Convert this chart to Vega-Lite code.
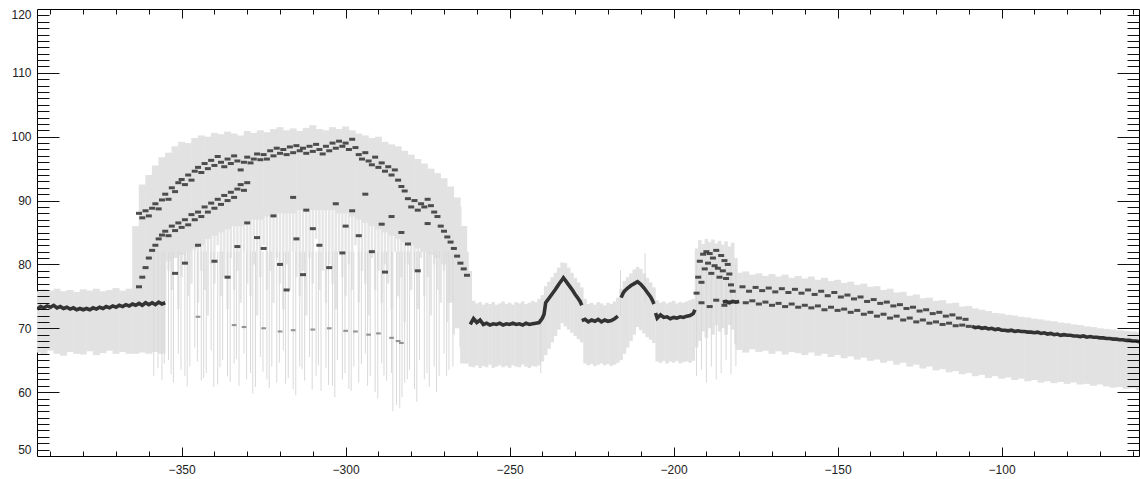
{
  "$schema": "https://vega.github.io/schema/vega-lite/v6.json",
  "autosize": {"type": "none"},
  "width": 1102,
  "height": 447,
  "padding": {"left": 37, "top": 9, "right": 1, "bottom": 23},
  "background": "white",
  "config": {
    "view": {"stroke": "#000", "strokeWidth": 1},
    "axis": {"domain": false, "grid": false, "title": null, "labelFont": "Liberation Sans", "labelFontSize": 12, "labelColor": "#222", "tickColor": "#111", "tickWidth": 1}
  },
  "datasets": {
    "haze": [
      {"x":-355,"lo":74,"hi":89},{"x":-354,"lo":79,"hi":89},{"x":-353,"lo":76,"hi":89},{"x":-352,"lo":81,"hi":89},{"x":-351,"lo":73,"hi":89},{"x":-350,"lo":78,"hi":89},{"x":-349,"lo":80,"hi":89},{"x":-348,"lo":75,"hi":89},{"x":-347,"lo":77,"hi":89},{"x":-346,"lo":82,"hi":89},{"x":-345,"lo":74,"hi":89},{"x":-344,"lo":79,"hi":89},{"x":-343,"lo":76,"hi":89},{"x":-342,"lo":72,"hi":89},{"x":-341,"lo":80,"hi":89},{"x":-340,"lo":77,"hi":89},{"x":-339,"lo":83,"hi":89},{"x":-338,"lo":75,"hi":89},{"x":-337,"lo":78,"hi":89},{"x":-336,"lo":73,"hi":89},{"x":-335,"lo":81,"hi":89},{"x":-334,"lo":76,"hi":89},{"x":-333,"lo":79,"hi":89},{"x":-332,"lo":74,"hi":89},{"x":-331,"lo":82,"hi":89},{"x":-330,"lo":77,"hi":89},{"x":-329,"lo":75,"hi":89},{"x":-328,"lo":80,"hi":89},{"x":-327,"lo":72,"hi":89},{"x":-326,"lo":78,"hi":89},{"x":-325,"lo":83,"hi":89},{"x":-324,"lo":76,"hi":89},{"x":-323,"lo":79,"hi":89},{"x":-322,"lo":74,"hi":89},{"x":-321,"lo":81,"hi":89},{"x":-320,"lo":77,"hi":89},{"x":-319,"lo":73,"hi":89},{"x":-318,"lo":80,"hi":89},{"x":-317,"lo":76,"hi":89},{"x":-316,"lo":82,"hi":89},{"x":-315,"lo":78,"hi":89},{"x":-314,"lo":75,"hi":89},{"x":-313,"lo":79,"hi":89},{"x":-312,"lo":72,"hi":89},{"x":-311,"lo":81,"hi":89},{"x":-310,"lo":77,"hi":89},{"x":-309,"lo":84,"hi":89},{"x":-308,"lo":76,"hi":89},{"x":-307,"lo":79,"hi":89},{"x":-306,"lo":74,"hi":89},{"x":-305,"lo":80,"hi":89},{"x":-304,"lo":77,"hi":89},{"x":-303,"lo":73,"hi":89},{"x":-302,"lo":82,"hi":89},{"x":-301,"lo":78,"hi":89},{"x":-300,"lo":75,"hi":89},{"x":-299,"lo":80,"hi":89},{"x":-298,"lo":76,"hi":89},{"x":-297,"lo":83,"hi":89},{"x":-296,"lo":74,"hi":89},{"x":-295,"lo":79,"hi":89},{"x":-294,"lo":77,"hi":89},{"x":-293,"lo":72,"hi":89},{"x":-292,"lo":81,"hi":89},{"x":-291,"lo":76,"hi":89},{"x":-290,"lo":79,"hi":89},{"x":-289,"lo":74,"hi":89},{"x":-288,"lo":80,"hi":89},{"x":-287,"lo":77,"hi":89},{"x":-286,"lo":73,"hi":89},{"x":-285,"lo":82,"hi":89},{"x":-284,"lo":75,"hi":89},{"x":-283,"lo":78,"hi":89},{"x":-282,"lo":71,"hi":89},{"x":-281,"lo":80,"hi":89},{"x":-280,"lo":76,"hi":89},{"x":-279,"lo":79,"hi":89},{"x":-278,"lo":73,"hi":89},{"x":-277,"lo":81,"hi":89},{"x":-276,"lo":75,"hi":89},{"x":-275,"lo":78,"hi":89},{"x":-274,"lo":72,"hi":89},{"x":-273,"lo":80,"hi":89},{"x":-272,"lo":76,"hi":89},{"x":-271,"lo":74,"hi":89},{"x":-270,"lo":79,"hi":89},{"x":-269,"lo":71,"hi":89},{"x":-268,"lo":75,"hi":89},{"x":-267,"lo":69,"hi":89},{"x":-266,"lo":72,"hi":89},{"x":-265,"lo":67,"hi":89}
    ],
    "band2": [
      {"x":-394,"lo":66.2,"hi":75.8},{"x":-392,"lo":65.8,"hi":76.1},{"x":-390,"lo":66.5,"hi":75.9},{"x":-388,"lo":66.0,"hi":76.2},{"x":-386,"lo":65.7,"hi":75.8},{"x":-384,"lo":66.3,"hi":76.0},{"x":-382,"lo":66.0,"hi":75.7},{"x":-380,"lo":65.9,"hi":76.1},{"x":-378,"lo":66.4,"hi":75.9},{"x":-376,"lo":65.8,"hi":76.2},{"x":-374,"lo":66.1,"hi":75.8},{"x":-372,"lo":66.5,"hi":76.0},{"x":-370,"lo":66.0,"hi":76.3},{"x":-368,"lo":66.3,"hi":75.9},{"x":-366,"lo":66.0,"hi":76.2},
      {"x":-364,"lo":66.0,"hi":86.0},{"x":-362,"lo":66.2,"hi":92.5},{"x":-360,"lo":66.0,"hi":94.0},{"x":-358,"lo":66.3,"hi":95.5},{"x":-356,"lo":66.0,"hi":96.8},{"x":-354,"lo":80.5,"hi":97.5},{"x":-352,"lo":81.0,"hi":98.5},{"x":-350,"lo":81.5,"hi":99.2},{"x":-348,"lo":82.0,"hi":99.0},{"x":-346,"lo":82.5,"hi":99.8},{"x":-344,"lo":83.0,"hi":100.2},{"x":-342,"lo":84.0,"hi":100.0},{"x":-340,"lo":84.5,"hi":100.6},{"x":-338,"lo":85.0,"hi":100.4},{"x":-336,"lo":85.5,"hi":100.8},{"x":-334,"lo":86.0,"hi":100.5},{"x":-332,"lo":86.0,"hi":100.2},{"x":-330,"lo":86.5,"hi":100.9},{"x":-328,"lo":87.0,"hi":100.6},{"x":-326,"lo":87.0,"hi":101.0},{"x":-324,"lo":87.5,"hi":100.7},{"x":-322,"lo":87.5,"hi":101.2},{"x":-320,"lo":88.0,"hi":101.5},{"x":-318,"lo":88.0,"hi":101.0},{"x":-316,"lo":88.0,"hi":101.3},{"x":-314,"lo":88.5,"hi":100.9},{"x":-312,"lo":88.5,"hi":101.4},{"x":-310,"lo":88.5,"hi":101.8},{"x":-308,"lo":88.5,"hi":101.2},{"x":-306,"lo":88.5,"hi":101.0},{"x":-304,"lo":88.5,"hi":101.5},{"x":-302,"lo":88.0,"hi":101.2},{"x":-300,"lo":88.0,"hi":101.6},{"x":-298,"lo":87.5,"hi":101.0},{"x":-296,"lo":87.0,"hi":100.5},{"x":-294,"lo":86.5,"hi":100.2},{"x":-292,"lo":86.0,"hi":99.8},{"x":-290,"lo":85.5,"hi":100.0},{"x":-288,"lo":85.0,"hi":99.2},{"x":-286,"lo":84.5,"hi":98.8},{"x":-284,"lo":84.0,"hi":98.5},{"x":-282,"lo":83.5,"hi":97.8},{"x":-280,"lo":83.0,"hi":97.2},{"x":-278,"lo":82.5,"hi":96.5},{"x":-276,"lo":82.0,"hi":95.8},{"x":-274,"lo":81.5,"hi":95.0},{"x":-272,"lo":81.0,"hi":94.3},{"x":-270,"lo":80.0,"hi":93.5},{"x":-268,"lo":74.0,"hi":92.2},{"x":-266,"lo":70.0,"hi":90.5},{"x":-264,"lo":64.5,"hi":86.0},
      {"x":-180,"lo":66.6,"hi":78.7},{"x":-178,"lo":66.2,"hi":78.9},{"x":-176,"lo":66.7,"hi":78.4},{"x":-174,"lo":66.3,"hi":78.6},{"x":-172,"lo":66.5,"hi":78.2},{"x":-170,"lo":66.0,"hi":78.5},{"x":-168,"lo":66.4,"hi":78.1},{"x":-166,"lo":65.9,"hi":78.4},{"x":-164,"lo":66.3,"hi":77.9},{"x":-162,"lo":66.1,"hi":78.2},{"x":-160,"lo":65.8,"hi":77.8},{"x":-158,"lo":66.2,"hi":78.1},{"x":-156,"lo":65.7,"hi":77.6},{"x":-154,"lo":66.0,"hi":77.9},{"x":-152,"lo":65.5,"hi":77.4},{"x":-150,"lo":65.8,"hi":77.6},{"x":-148,"lo":65.3,"hi":77.1},{"x":-146,"lo":65.6,"hi":77.3},{"x":-144,"lo":65.1,"hi":76.8},{"x":-142,"lo":65.4,"hi":77.0},{"x":-140,"lo":64.9,"hi":76.5},{"x":-138,"lo":65.1,"hi":76.6},{"x":-136,"lo":64.6,"hi":76.0},{"x":-134,"lo":64.9,"hi":76.2},{"x":-132,"lo":64.3,"hi":75.6},{"x":-130,"lo":64.6,"hi":75.7},{"x":-128,"lo":64.0,"hi":75.1},{"x":-126,"lo":64.3,"hi":75.3},{"x":-124,"lo":63.7,"hi":74.7},{"x":-122,"lo":64.0,"hi":74.8},{"x":-120,"lo":63.4,"hi":74.3},{"x":-118,"lo":63.6,"hi":74.4},{"x":-116,"lo":63.1,"hi":73.9},{"x":-114,"lo":63.3,"hi":74.0},{"x":-112,"lo":62.8,"hi":73.4},{"x":-110,"lo":63.0,"hi":73.5},{"x":-108,"lo":62.5,"hi":73.1},{"x":-106,"lo":62.7,"hi":72.9},{"x":-104,"lo":62.2,"hi":72.7},{"x":-102,"lo":62.5,"hi":72.4},{"x":-100,"lo":62.1,"hi":72.3},{"x":-98,"lo":62.3,"hi":72.1},{"x":-96,"lo":61.9,"hi":72.0},{"x":-94,"lo":62.1,"hi":71.8},{"x":-92,"lo":61.7,"hi":71.7},{"x":-90,"lo":61.9,"hi":71.5},{"x":-88,"lo":61.5,"hi":71.4},{"x":-86,"lo":61.7,"hi":71.2},{"x":-84,"lo":61.4,"hi":71.1},{"x":-82,"lo":61.6,"hi":70.9},{"x":-80,"lo":61.3,"hi":70.8},{"x":-78,"lo":61.5,"hi":70.6},{"x":-76,"lo":61.2,"hi":70.5},{"x":-74,"lo":61.3,"hi":70.3},{"x":-72,"lo":61.0,"hi":70.2},{"x":-70,"lo":61.2,"hi":70.0},{"x":-68,"lo":60.9,"hi":69.9},{"x":-66,"lo":60.7,"hi":69.8},{"x":-64,"lo":60.8,"hi":69.7},{"x":-62,"lo":60.5,"hi":69.6},{"x":-60,"lo":60.6,"hi":69.5},{"x":-58,"lo":60.3,"hi":69.4}
    ],
    "band1": [
      {"x":-263,"lo":64.5,"hi":82.0},{"x":-262,"lo":64.0,"hi":79.0},{"x":-261,"lo":63.9,"hi":74.3},{"x":-260,"lo":64.2,"hi":73.9},{"x":-259,"lo":63.8,"hi":74.1},{"x":-258,"lo":64.1,"hi":73.7},{"x":-257,"lo":63.9,"hi":74.0},{"x":-256,"lo":64.3,"hi":73.8},{"x":-255,"lo":63.8,"hi":74.1},{"x":-254,"lo":64.0,"hi":73.7},{"x":-253,"lo":64.2,"hi":73.9},{"x":-252,"lo":63.9,"hi":74.2},{"x":-251,"lo":64.1,"hi":73.8},{"x":-250,"lo":63.8,"hi":74.0},{"x":-249,"lo":64.2,"hi":73.7},{"x":-248,"lo":64.0,"hi":74.1},{"x":-247,"lo":63.9,"hi":73.9},{"x":-246,"lo":64.3,"hi":74.2},{"x":-245,"lo":64.0,"hi":73.8},{"x":-244,"lo":63.8,"hi":74.0},{"x":-243,"lo":64.1,"hi":74.3},{"x":-242,"lo":64.0,"hi":74.1},{"x":-241,"lo":64.2,"hi":74.6},{"x":-240,"lo":64.8,"hi":75.2},
      {"x":-239,"lo":65.8,"hi":76.6},{"x":-238,"lo":66.8,"hi":77.3},{"x":-237,"lo":67.8,"hi":78.0},{"x":-236,"lo":68.8,"hi":78.7},{"x":-235,"lo":69.8,"hi":79.5},{"x":-234,"lo":70.8,"hi":80.3},{"x":-233,"lo":70.3,"hi":80.2},{"x":-232,"lo":69.8,"hi":79.5},{"x":-231,"lo":69.3,"hi":78.7},{"x":-230,"lo":68.8,"hi":77.9},{"x":-229,"lo":68.3,"hi":77.2},{"x":-228,"lo":67.8,"hi":76.4},
      {"x":-227,"lo":64.5,"hi":74.6},{"x":-226,"lo":64.2,"hi":73.8},{"x":-225,"lo":64.4,"hi":74.0},{"x":-224,"lo":64.1,"hi":73.7},{"x":-223,"lo":64.3,"hi":74.1},{"x":-222,"lo":64.5,"hi":73.9},{"x":-221,"lo":64.2,"hi":73.6},{"x":-220,"lo":64.4,"hi":74.0},{"x":-219,"lo":64.1,"hi":73.8},{"x":-218,"lo":64.3,"hi":74.2},{"x":-217,"lo":64.6,"hi":74.8},
      {"x":-216,"lo":65.0,"hi":76.2},{"x":-215,"lo":66.0,"hi":77.4},{"x":-214,"lo":67.0,"hi":78.0},{"x":-213,"lo":68.0,"hi":78.6},{"x":-212,"lo":69.0,"hi":79.2},{"x":-211,"lo":70.2,"hi":79.6},{"x":-210,"lo":69.7,"hi":79.3},{"x":-209,"lo":69.2,"hi":78.6},{"x":-208,"lo":68.6,"hi":77.9},{"x":-207,"lo":68.2,"hi":77.2},{"x":-206,"lo":67.7,"hi":76.4},
      {"x":-205,"lo":64.8,"hi":74.4},{"x":-204,"lo":64.6,"hi":74.0},{"x":-203,"lo":64.9,"hi":74.2},{"x":-202,"lo":64.5,"hi":73.9},{"x":-201,"lo":64.8,"hi":74.1},{"x":-200,"lo":64.6,"hi":74.3},{"x":-199,"lo":64.9,"hi":73.9},{"x":-198,"lo":64.5,"hi":74.1},{"x":-197,"lo":64.7,"hi":74.0},{"x":-196,"lo":64.8,"hi":74.2},{"x":-195,"lo":64.6,"hi":74.4},{"x":-194,"lo":64.9,"hi":74.6},
      {"x":-193,"lo":67.0,"hi":82.5},{"x":-192,"lo":68.0,"hi":83.8},{"x":-191,"lo":69.5,"hi":83.2},{"x":-190,"lo":68.5,"hi":84.0},{"x":-189,"lo":70.0,"hi":83.5},{"x":-188,"lo":69.0,"hi":83.9},{"x":-187,"lo":70.5,"hi":83.3},{"x":-186,"lo":69.5,"hi":83.7},{"x":-185,"lo":70.0,"hi":83.1},{"x":-184,"lo":69.0,"hi":83.6},{"x":-183,"lo":70.5,"hi":82.8},{"x":-182,"lo":69.8,"hi":83.4},{"x":-181,"lo":67.5,"hi":81.0}
    ],
    "spikes": [
      {"x":-358.5,"lo":62.5,"hi":82},{"x":-357.2,"lo":63.8,"hi":82},{"x":-356.0,"lo":61.9,"hi":82},{"x":-354,"lo":65.0,"hi":82},{"x":-352.5,"lo":61.5,"hi":82},{"x":-351,"lo":66.0,"hi":82},{"x":-349,"lo":62.5,"hi":82},{"x":-347.5,"lo":64.0,"hi":82},{"x":-346,"lo":67.0,"hi":82},{"x":-344,"lo":61.8,"hi":82},{"x":-342.5,"lo":63.0,"hi":82},{"x":-341,"lo":66.5,"hi":82},{"x":-339,"lo":61.2,"hi":82},{"x":-337.5,"lo":65.0,"hi":82},{"x":-336,"lo":62.5,"hi":82},{"x":-334,"lo":64.5,"hi":82},{"x":-332.5,"lo":61.0,"hi":82},{"x":-331,"lo":66.0,"hi":82},{"x":-329,"lo":63.0,"hi":82},{"x":-327.5,"lo":60.8,"hi":82},{"x":-326,"lo":65.5,"hi":82},{"x":-324,"lo":62.0,"hi":82},{"x":-322.5,"lo":64.0,"hi":82},{"x":-321,"lo":61.5,"hi":82},{"x":-319,"lo":66.5,"hi":82},{"x":-317.5,"lo":62.2,"hi":82},{"x":-316,"lo":60.5,"hi":82},{"x":-314,"lo":64.0,"hi":82},{"x":-312.5,"lo":61.8,"hi":82},{"x":-311,"lo":65.5,"hi":82},{"x":-309,"lo":62.5,"hi":82},{"x":-307.5,"lo":60.2,"hi":82},{"x":-306,"lo":63.8,"hi":82},{"x":-304,"lo":61.0,"hi":82},{"x":-302.5,"lo":65.0,"hi":82},{"x":-301,"lo":62.0,"hi":82},{"x":-299,"lo":60.5,"hi":82},{"x":-297.5,"lo":64.0,"hi":82},{"x":-296,"lo":61.5,"hi":82},{"x":-294,"lo":66.0,"hi":82},{"x":-292.5,"lo":62.5,"hi":82},{"x":-291,"lo":60.0,"hi":82},{"x":-289,"lo":64.5,"hi":82},{"x":-287.5,"lo":61.8,"hi":82},{"x":-286,"lo":63.0,"hi":82},{"x":-284.5,"lo":58.0,"hi":82},{"x":-283.5,"lo":57.5,"hi":82},{"x":-282,"lo":61.5,"hi":82},{"x":-280.5,"lo":63.5,"hi":82},{"x":-279,"lo":60.5,"hi":82},{"x":-277.5,"lo":65.0,"hi":82},{"x":-276,"lo":62.0,"hi":82},{"x":-274.5,"lo":60.8,"hi":82},{"x":-273,"lo":64.0,"hi":82},{"x":-271.5,"lo":62.5,"hi":82},{"x":-270,"lo":66.0,"hi":82},{"x":-268.5,"lo":63.5,"hi":82},
      {"x":-355.3,"lo":64.5,"hi":82},{"x":-353.2,"lo":62.8,"hi":82},{"x":-350.2,"lo":63.5,"hi":82},{"x":-348.3,"lo":60.9,"hi":82},{"x":-345.2,"lo":64.8,"hi":82},{"x":-343.3,"lo":62.2,"hi":82},{"x":-340.2,"lo":60.8,"hi":82},{"x":-338.3,"lo":63.9,"hi":82},{"x":-335.2,"lo":61.6,"hi":82},{"x":-333.3,"lo":65.2,"hi":82},{"x":-330.2,"lo":62.0,"hi":82},{"x":-328.3,"lo":59.8,"hi":82},{"x":-325.2,"lo":63.2,"hi":82},{"x":-323.3,"lo":60.6,"hi":82},{"x":-320.2,"lo":64.6,"hi":82},{"x":-318.3,"lo":61.3,"hi":82},{"x":-315.2,"lo":59.5,"hi":82},{"x":-313.3,"lo":63.6,"hi":82},{"x":-310.2,"lo":60.4,"hi":82},{"x":-308.3,"lo":64.2,"hi":82},{"x":-305.2,"lo":61.1,"hi":82},{"x":-303.3,"lo":59.2,"hi":82},{"x":-300.2,"lo":63.0,"hi":82},{"x":-298.3,"lo":60.2,"hi":82},{"x":-295.2,"lo":64.4,"hi":82},{"x":-293.3,"lo":61.0,"hi":82},{"x":-290.2,"lo":59.0,"hi":82},{"x":-288.3,"lo":62.6,"hi":82},{"x":-285.6,"lo":57.0,"hi":82},{"x":-282.8,"lo":59.2,"hi":82},{"x":-281.2,"lo":62.0,"hi":82},{"x":-278.3,"lo":58.5,"hi":82},{"x":-275.2,"lo":63.0,"hi":82},{"x":-272.3,"lo":60.0,"hi":82},{"x":-269.2,"lo":62.5,"hi":82},{"x":-267.3,"lo":64.0,"hi":82},
      {"x":-193,"lo":62.5,"hi":80},{"x":-191.5,"lo":63.5,"hi":80},{"x":-190,"lo":61.5,"hi":80},{"x":-188.5,"lo":64.0,"hi":80},{"x":-187,"lo":62.0,"hi":80},{"x":-185.5,"lo":63.0,"hi":80},{"x":-184,"lo":65.0,"hi":80},{"x":-182.5,"lo":62.8,"hi":80},{"x":-181,"lo":64.0,"hi":80},
      {"x":-208.7,"lo":74.0,"hi":81.8},{"x":-216.2,"lo":72.0,"hi":79.1},{"x":-240.5,"lo":63.0,"hi":72.0}
    ],
    "trace": [
      {"x":-394,"y":73.0,"s":"A"},{"x":-393,"y":73.4,"s":"A"},{"x":-392,"y":73.2,"s":"A"},{"x":-391,"y":73.5,"s":"A"},{"x":-390,"y":73.3,"s":"A"},{"x":-389,"y":73.6,"s":"A"},{"x":-388,"y":73.2,"s":"A"},{"x":-387,"y":73.4,"s":"A"},{"x":-386,"y":73.1,"s":"A"},{"x":-385,"y":73.3,"s":"A"},{"x":-384,"y":73.0,"s":"A"},{"x":-383,"y":73.2,"s":"A"},{"x":-382,"y":72.9,"s":"A"},{"x":-381,"y":73.1,"s":"A"},{"x":-380,"y":72.9,"s":"A"},{"x":-379,"y":73.1,"s":"A"},{"x":-378,"y":72.9,"s":"A"},{"x":-377,"y":73.2,"s":"A"},{"x":-376,"y":73.0,"s":"A"},{"x":-375,"y":73.3,"s":"A"},{"x":-374,"y":73.1,"s":"A"},{"x":-373,"y":73.4,"s":"A"},{"x":-372,"y":73.2,"s":"A"},{"x":-371,"y":73.5,"s":"A"},{"x":-370,"y":73.3,"s":"A"},{"x":-369,"y":73.6,"s":"A"},{"x":-368,"y":73.4,"s":"A"},{"x":-367,"y":73.7,"s":"A"},{"x":-366,"y":73.5,"s":"A"},{"x":-365,"y":73.8,"s":"A"},{"x":-364,"y":73.6,"s":"A"},{"x":-363,"y":73.9,"s":"A"},{"x":-362,"y":73.6,"s":"A"},{"x":-361,"y":74.0,"s":"A"},{"x":-360,"y":73.7,"s":"A"},{"x":-359,"y":74.0,"s":"A"},{"x":-358,"y":73.7,"s":"A"},{"x":-357,"y":74.1,"s":"A"},{"x":-356,"y":73.8,"s":"A"},{"x":-355,"y":74.0,"s":"A"},
      {"x":-262,"y":70.6,"s":"C"},{"x":-261,"y":71.5,"s":"C"},{"x":-260,"y":70.9,"s":"C"},{"x":-259,"y":71.3,"s":"C"},{"x":-258,"y":70.6,"s":"C"},{"x":-257,"y":70.8,"s":"C"},{"x":-256,"y":70.5,"s":"C"},{"x":-255,"y":70.7,"s":"C"},{"x":-254,"y":70.6,"s":"C"},{"x":-253,"y":70.8,"s":"C"},{"x":-252,"y":70.5,"s":"C"},{"x":-251,"y":70.7,"s":"C"},{"x":-250,"y":70.6,"s":"C"},{"x":-249,"y":70.8,"s":"C"},{"x":-248,"y":70.6,"s":"C"},{"x":-247,"y":70.7,"s":"C"},{"x":-246,"y":70.5,"s":"C"},{"x":-245,"y":70.8,"s":"C"},{"x":-244,"y":70.6,"s":"C"},{"x":-243,"y":70.7,"s":"C"},{"x":-242,"y":70.8,"s":"C"},{"x":-241,"y":70.9,"s":"C"},{"x":-240,"y":71.6,"s":"C"},{"x":-239.5,"y":72.2,"s":"C"},{"x":-239,"y":74.0,"s":"C"},{"x":-238,"y":74.7,"s":"C"},{"x":-237,"y":75.4,"s":"C"},{"x":-236,"y":76.1,"s":"C"},{"x":-235,"y":76.9,"s":"C"},{"x":-234,"y":77.6,"s":"C"},{"x":-233.6,"y":77.9,"s":"C"},{"x":-233,"y":77.5,"s":"C"},{"x":-232,"y":76.8,"s":"C"},{"x":-231,"y":76.1,"s":"C"},{"x":-230,"y":75.3,"s":"C"},{"x":-229,"y":74.6,"s":"C"},{"x":-228.5,"y":74.2,"s":"C"},{"x":-228,"y":73.6,"s":"C"},
      {"x":-228,"y":71.2,"s":"D"},{"x":-227,"y":71.4,"s":"D"},{"x":-226,"y":71.0,"s":"D"},{"x":-225,"y":71.3,"s":"D"},{"x":-224,"y":71.1,"s":"D"},{"x":-223,"y":71.4,"s":"D"},{"x":-222,"y":71.0,"s":"D"},{"x":-221,"y":71.3,"s":"D"},{"x":-220,"y":71.1,"s":"D"},{"x":-219,"y":71.2,"s":"D"},{"x":-218,"y":71.5,"s":"D"},{"x":-217,"y":71.9,"s":"D"},
      {"x":-216,"y":74.8,"s":"H2"},{"x":-215.4,"y":75.5,"s":"H2"},{"x":-215,"y":75.8,"s":"H2"},{"x":-214,"y":76.3,"s":"H2"},{"x":-213,"y":76.7,"s":"H2"},{"x":-212,"y":77.0,"s":"H2"},{"x":-211,"y":77.3,"s":"H2"},{"x":-210,"y":76.9,"s":"H2"},{"x":-209,"y":76.3,"s":"H2"},{"x":-208,"y":75.6,"s":"H2"},{"x":-207,"y":74.9,"s":"H2"},{"x":-206.3,"y":74.2,"s":"H2"},{"x":-206,"y":73.8,"s":"H2"},
      {"x":-205.5,"y":72.4,"s":"E"},{"x":-205,"y":71.6,"s":"E"},{"x":-204,"y":72.1,"s":"E"},{"x":-203,"y":71.7,"s":"E"},{"x":-202,"y":71.8,"s":"E"},{"x":-201,"y":71.5,"s":"E"},{"x":-200,"y":71.7,"s":"E"},{"x":-199,"y":71.6,"s":"E"},{"x":-198,"y":71.8,"s":"E"},{"x":-197,"y":71.7,"s":"E"},{"x":-196,"y":71.9,"s":"E"},{"x":-195,"y":72.0,"s":"E"},{"x":-194,"y":72.3,"s":"E"},{"x":-193.5,"y":72.9,"s":"E"},
      {"x":-185,"y":74.1,"s":"F"},{"x":-184,"y":74.2,"s":"F"},{"x":-183,"y":74.0,"s":"F"},{"x":-182,"y":74.2,"s":"F"},{"x":-181,"y":74.1,"s":"F"},{"x":-180,"y":74.2,"s":"F"},
      {"x":-109,"y":70.3,"s":"H"},{"x":-108,"y":70.1,"s":"H"},{"x":-107,"y":70.2,"s":"H"},{"x":-106,"y":70.0,"s":"H"},{"x":-105,"y":70.1,"s":"H"},{"x":-104,"y":69.9,"s":"H"},{"x":-103,"y":70.0,"s":"H"},{"x":-102,"y":69.8,"s":"H"},{"x":-101,"y":69.9,"s":"H"},{"x":-100,"y":69.7,"s":"H"},{"x":-99,"y":69.7,"s":"H"},{"x":-98,"y":69.6,"s":"H"},{"x":-97,"y":69.7,"s":"H"},{"x":-96,"y":69.5,"s":"H"},{"x":-95,"y":69.6,"s":"H"},{"x":-94,"y":69.5,"s":"H"},{"x":-93,"y":69.5,"s":"H"},{"x":-92,"y":69.4,"s":"H"},{"x":-91,"y":69.4,"s":"H"},{"x":-90,"y":69.3,"s":"H"},{"x":-89,"y":69.4,"s":"H"},{"x":-88,"y":69.2,"s":"H"},{"x":-87,"y":69.3,"s":"H"},{"x":-86,"y":69.1,"s":"H"},{"x":-85,"y":69.2,"s":"H"},{"x":-84,"y":69.0,"s":"H"},{"x":-83,"y":69.1,"s":"H"},{"x":-82,"y":68.9,"s":"H"},{"x":-81,"y":69.0,"s":"H"},{"x":-80,"y":68.9,"s":"H"},{"x":-79,"y":68.9,"s":"H"},{"x":-78,"y":68.8,"s":"H"},{"x":-77,"y":68.8,"s":"H"},{"x":-76,"y":68.7,"s":"H"},{"x":-75,"y":68.8,"s":"H"},{"x":-74,"y":68.6,"s":"H"},{"x":-73,"y":68.7,"s":"H"},{"x":-72,"y":68.6,"s":"H"},{"x":-71,"y":68.6,"s":"H"},{"x":-70,"y":68.5,"s":"H"},{"x":-69,"y":68.5,"s":"H"},{"x":-68,"y":68.4,"s":"H"},{"x":-67,"y":68.4,"s":"H"},{"x":-66,"y":68.3,"s":"H"},{"x":-65,"y":68.3,"s":"H"},{"x":-64,"y":68.2,"s":"H"},{"x":-63,"y":68.2,"s":"H"},{"x":-62,"y":68.1,"s":"H"},{"x":-61,"y":68.1,"s":"H"},{"x":-60,"y":68.0,"s":"H"},{"x":-59,"y":68.0,"s":"H"},{"x":-58,"y":67.9,"s":"H"}
    ],
    "dots": [
      {"x":-363,"y":88.0},{"x":-362,"y":87.3},{"x":-361,"y":88.4},{"x":-360,"y":87.6},{"x":-359,"y":88.8},{"x":-358,"y":89.5},{"x":-357,"y":88.7},{"x":-356,"y":90.1},{"x":-355,"y":91.0},{"x":-354,"y":90.2},{"x":-353,"y":92.0},{"x":-352,"y":91.4},{"x":-351,"y":92.8},{"x":-350,"y":93.3},{"x":-349,"y":92.5},{"x":-348,"y":94.0},{"x":-347,"y":93.2},{"x":-346,"y":94.6},{"x":-345,"y":95.2},{"x":-344,"y":94.4},{"x":-343,"y":95.8},{"x":-342,"y":95.0},{"x":-341,"y":96.3},{"x":-340,"y":95.5},{"x":-339,"y":96.9},{"x":-338,"y":96.0},{"x":-337,"y":95.3},{"x":-336,"y":96.5},{"x":-335,"y":95.8},{"x":-334,"y":97.0},{"x":-333,"y":96.2},{"x":-332,"y":94.8},{"x":-331,"y":96.0},{"x":-330,"y":96.8},{"x":-329,"y":95.9},{"x":-328,"y":96.5},{"x":-327,"y":97.3},{"x":-326,"y":96.4},{"x":-325,"y":97.2},{"x":-324,"y":96.5},{"x":-323,"y":97.8},{"x":-322,"y":97.0},{"x":-321,"y":98.2},{"x":-320,"y":97.4},{"x":-319,"y":98.0},{"x":-318,"y":97.2},{"x":-317,"y":98.4},{"x":-316,"y":97.5},{"x":-315,"y":98.6},{"x":-314,"y":97.8},{"x":-313,"y":98.2},{"x":-312,"y":97.4},{"x":-311,"y":98.5},{"x":-310,"y":97.7},{"x":-309,"y":98.8},{"x":-308,"y":98.0},{"x":-307,"y":97.3},{"x":-306,"y":98.5},{"x":-305,"y":97.8},{"x":-304,"y":99.0},{"x":-303,"y":98.2},{"x":-302,"y":99.3},{"x":-301,"y":98.5},{"x":-300,"y":99.0},{"x":-299,"y":98.0},{"x":-298,"y":99.6},{"x":-297,"y":98.3},{"x":-296,"y":97.2},{"x":-295,"y":96.5},{"x":-294,"y":97.5},{"x":-293,"y":96.2},{"x":-292,"y":95.6},{"x":-291,"y":96.8},{"x":-290,"y":95.2},{"x":-289,"y":95.9},{"x":-288,"y":94.6},{"x":-287,"y":95.3},{"x":-286,"y":94.0},{"x":-285,"y":94.8},{"x":-284,"y":93.2},{"x":-283,"y":92.2},{"x":-282,"y":91.5},{"x":-281,"y":90.3},{"x":-280,"y":89.0},{"x":-279,"y":90.0},{"x":-278,"y":88.5},{"x":-277,"y":89.5},{"x":-276,"y":89.0},{"x":-275,"y":90.2},{"x":-274,"y":89.2},{"x":-273,"y":88.2},{"x":-272,"y":87.5},{"x":-271,"y":86.0},{"x":-270,"y":85.2},{"x":-269,"y":84.3},{"x":-268,"y":83.5},{"x":-267,"y":82.5},{"x":-266,"y":81.3},{"x":-265,"y":80.2},{"x":-264,"y":79.3},{"x":-263,"y":78.3},
      {"x":-363,"y":76.5},{"x":-362,"y":78.0},{"x":-361,"y":79.5},{"x":-360,"y":81.0},{"x":-359,"y":82.2},{"x":-358,"y":83.0},{"x":-357,"y":84.0},{"x":-356,"y":84.6},{"x":-355,"y":85.2},{"x":-354,"y":84.5},{"x":-353,"y":86.0},{"x":-352,"y":85.3},{"x":-351,"y":86.5},{"x":-350,"y":85.8},{"x":-349,"y":87.0},{"x":-348,"y":86.2},{"x":-347,"y":87.8},{"x":-346,"y":87.0},{"x":-345,"y":88.2},{"x":-344,"y":87.5},{"x":-343,"y":89.0},{"x":-342,"y":88.2},{"x":-341,"y":89.6},{"x":-340,"y":88.8},{"x":-339,"y":90.2},{"x":-338,"y":89.4},{"x":-337,"y":90.8},{"x":-336,"y":90.0},{"x":-335,"y":91.3},{"x":-334,"y":90.5},{"x":-333,"y":91.8},{"x":-332,"y":92.5},{"x":-331,"y":91.6},{"x":-330,"y":92.8},
      {"x":-325,"y":82.5},{"x":-320,"y":80.0},{"x":-315,"y":84.0},{"x":-308,"y":83.0},{"x":-305,"y":79.5},{"x":-300,"y":86.0},{"x":-296,"y":84.5},{"x":-292,"y":82.0},{"x":-318,"y":76.0},{"x":-336,"y":78.0},{"x":-340,"y":80.5},{"x":-330,"y":86.5},{"x":-286,"y":87.5},{"x":-283,"y":85.0},{"x":-278,"y":79.0},{"x":-345,"y":83.0},{"x":-312,"y":88.5},{"x":-303,"y":89.5},
      {"x":-327,"y":84.2},{"x":-322,"y":87.6},{"x":-316,"y":90.5},{"x":-310,"y":85.6},{"x":-298,"y":88.4},{"x":-294,"y":91.0},{"x":-289,"y":86.3},{"x":-281,"y":83.2},{"x":-275,"y":86.4},{"x":-333,"y":82.8},{"x":-349,"y":80.2},{"x":-313,"y":78.4},{"x":-301,"y":81.8},{"x":-288,"y":78.8},{"x":-352,"y":78.6},
      {"x":-192.5,"y":78.0},{"x":-192,"y":80.5},{"x":-191.5,"y":77.2},{"x":-191,"y":81.6},{"x":-190.5,"y":79.3},{"x":-190,"y":82.0},{"x":-189.5,"y":80.2},{"x":-189,"y":81.7},{"x":-188.5,"y":78.6},{"x":-188,"y":81.0},{"x":-187.5,"y":79.8},{"x":-187,"y":82.2},{"x":-186.5,"y":79.4},{"x":-186,"y":78.0},{"x":-185.5,"y":81.4},{"x":-185,"y":79.0},{"x":-184.5,"y":80.6},{"x":-184,"y":77.8},{"x":-183.5,"y":80.0},{"x":-183,"y":78.5},{"x":-182.5,"y":76.8},{"x":-191.5,"y":74.0},{"x":-189,"y":73.4},{"x":-187,"y":74.4},{"x":-184.5,"y":73.6},{"x":-193,"y":75.5},{"x":-182,"y":75.8},
      {"x":-179,"y":76.5},{"x":-178,"y":74.0},{"x":-177,"y":75.8},{"x":-176,"y":74.3},{"x":-175,"y":76.4},{"x":-174,"y":73.8},{"x":-173,"y":75.9},{"x":-172,"y":74.1},{"x":-171,"y":76.3},{"x":-170,"y":73.6},{"x":-169,"y":75.7},{"x":-168,"y":73.9},{"x":-167,"y":76.2},{"x":-166,"y":73.4},{"x":-165,"y":75.6},{"x":-164,"y":73.8},{"x":-163,"y":76.1},{"x":-162,"y":73.3},{"x":-161,"y":75.5},{"x":-160,"y":73.6},{"x":-159,"y":76.0},{"x":-158,"y":73.2},{"x":-157,"y":75.3},{"x":-156,"y":73.5},{"x":-155,"y":75.8},{"x":-154,"y":72.9},{"x":-153,"y":75.1},{"x":-152,"y":73.3},{"x":-151,"y":75.6},{"x":-150,"y":72.8},{"x":-149,"y":74.9},{"x":-148,"y":73.0},{"x":-147,"y":75.2},{"x":-146,"y":72.5},{"x":-145,"y":74.6},{"x":-144,"y":72.8},{"x":-143,"y":74.9},{"x":-142,"y":72.2},{"x":-141,"y":74.2},{"x":-140,"y":72.5},{"x":-139,"y":74.5},{"x":-138,"y":71.9},{"x":-137,"y":73.9},{"x":-136,"y":72.2},{"x":-135,"y":74.1},{"x":-134,"y":71.6},{"x":-133,"y":73.5},{"x":-132,"y":71.9},{"x":-131,"y":73.7},{"x":-130,"y":71.3},{"x":-129,"y":73.1},{"x":-128,"y":71.6},{"x":-127,"y":73.3},{"x":-126,"y":71.0},{"x":-125,"y":72.7},{"x":-124,"y":71.3},{"x":-123,"y":72.9},{"x":-122,"y":70.8},{"x":-121,"y":72.3},{"x":-120,"y":71.0},{"x":-119,"y":72.5},{"x":-118,"y":70.6},{"x":-117,"y":71.9},{"x":-116,"y":70.8},{"x":-115,"y":72.1},{"x":-114,"y":70.4},{"x":-113,"y":71.6},{"x":-112,"y":70.5},{"x":-111,"y":71.4},{"x":-110,"y":70.3}
    ],
    "faint": [
      {"x":-345,"y":71.8},{"x":-334,"y":70.5},{"x":-331,"y":70.2},{"x":-325,"y":70.0},{"x":-320,"y":69.5},{"x":-316,"y":69.7},{"x":-310,"y":69.8},{"x":-305,"y":70.0},{"x":-300,"y":69.6},{"x":-297,"y":69.5},{"x":-293,"y":69.0},{"x":-290,"y":69.2},{"x":-286,"y":68.5},{"x":-284,"y":68.0},{"x":-283,"y":67.7}
    ]
  },
  "resolve": {"axis": {"x": "independent", "y": "independent"}},
  "layer": [
    {
      "data": {"name": "haze"},
      "mark": {"type": "rule", "color": "#e6e6e6", "strokeWidth": 2.4, "clip": true},
      "encoding": {
        "x": {"field": "x", "type": "quantitative", "scale": {"domain": [-394.1, -58.1], "nice": false, "zero": false},
              "axis": {"orient": "bottom", "values": [-350, -300, -250, -200, -150, -100], "ticks": false, "labelPadding": 8}},
        "y": {"field": "lo", "type": "quantitative", "scale": {"domain": [50, 120], "nice": false, "zero": false},
              "axis": {"orient": "left", "values": [50, 60, 70, 80, 90, 100, 110, 120], "ticks": false, "labelPadding": 6, "labelFlush": true}},
        "y2": {"field": "hi"}
      }
    },
    {
      "data": {"name": "band2"},
      "mark": {"type": "rule", "color": "#e2e2e2", "strokeWidth": 7, "clip": true},
      "encoding": {
        "x": {"field": "x", "type": "quantitative", "axis": {"orient": "bottom", "values": [-350, -300, -250, -200, -150, -100], "labels": false, "tickSize": -9, "zindex": 2}},
        "y": {"field": "lo", "type": "quantitative", "axis": {"orient": "left", "values": [60, 70, 80, 90, 100, 110], "labels": false, "tickSize": -22, "zindex": 2}},
        "y2": {"field": "hi"}
      }
    },
    {
      "data": {"name": "band1"},
      "mark": {"type": "rule", "color": "#e2e2e2", "strokeWidth": 3.6, "clip": true},
      "encoding": {
        "x": {"field": "x", "type": "quantitative", "axis": {"orient": "bottom", "values": [-390,-380,-370,-360,-340,-330,-320,-310,-290,-280,-270,-260,-240,-230,-220,-210,-190,-180,-170,-160,-140,-130,-120,-110,-90,-80,-70,-60], "labels": false, "tickSize": -5, "zindex": 2}},
        "y": {"field": "lo", "type": "quantitative", "axis": {"orient": "left", "values": [51,52,53,54,55,56,57,58,59,61,62,63,64,65,66,67,68,69,71,72,73,74,75,76,77,78,79,81,82,83,84,85,86,87,88,89,91,92,93,94,95,96,97,98,99,101,102,103,104,105,106,107,108,109,111,112,113,114,115,116,117,118,119], "labels": false, "tickSize": -12, "zindex": 2}},
        "y2": {"field": "hi"}
      }
    },
    {
      "data": {"name": "spikes"},
      "mark": {"type": "rule", "color": "#d9d9d9", "strokeWidth": 1, "clip": true},
      "encoding": {
        "x": {"field": "x", "type": "quantitative", "axis": {"orient": "top", "values": [-350, -300, -250, -200, -150, -100], "labels": false, "tickSize": -9, "zindex": 2}},
        "y": {"field": "lo", "type": "quantitative", "axis": {"orient": "right", "values": [60, 70, 80, 90, 100, 110], "labels": false, "tickSize": -22, "zindex": 2}},
        "y2": {"field": "hi"}
      }
    },
    {
      "data": {"name": "trace"},
      "mark": {"type": "line", "color": "#333333", "strokeWidth": 3.6, "clip": true},
      "encoding": {
        "x": {"field": "x", "type": "quantitative", "axis": {"orient": "top", "values": [-390,-380,-370,-360,-340,-330,-320,-310,-290,-280,-270,-260,-240,-230,-220,-210,-190,-180,-170,-160,-140,-130,-120,-110,-90,-80,-70,-60], "labels": false, "tickSize": -5, "zindex": 2}},
        "y": {"field": "y", "type": "quantitative", "axis": {"orient": "right", "values": [51,52,53,54,55,56,57,58,59,61,62,63,64,65,66,67,68,69,71,72,73,74,75,76,77,78,79,81,82,83,84,85,86,87,88,89,91,92,93,94,95,96,97,98,99,101,102,103,104,105,106,107,108,109,111,112,113,114,115,116,117,118,119], "labels": false, "tickSize": -12, "zindex": 2}},
        "detail": {"field": "s"}
      }
    },
    {
      "data": {"name": "dots"},
      "mark": {"type": "point", "shape": "M-1,-0.5L1,-0.5L1,0.5L-1,0.5Z", "filled": true, "size": 36, "color": "#333333", "opacity": 0.85, "clip": true},
      "encoding": {
        "x": {"field": "x", "type": "quantitative", "axis": null},
        "y": {"field": "y", "type": "quantitative", "axis": null}
      }
    },
    {
      "data": {"name": "faint"},
      "mark": {"type": "point", "shape": "M-1,-0.45L1,-0.45L1,0.45L-1,0.45Z", "filled": true, "size": 22, "color": "#8a8a8a", "opacity": 0.9, "clip": true},
      "encoding": {
        "x": {"field": "x", "type": "quantitative", "axis": null},
        "y": {"field": "y", "type": "quantitative", "axis": null}
      }
    }
  ]
}
